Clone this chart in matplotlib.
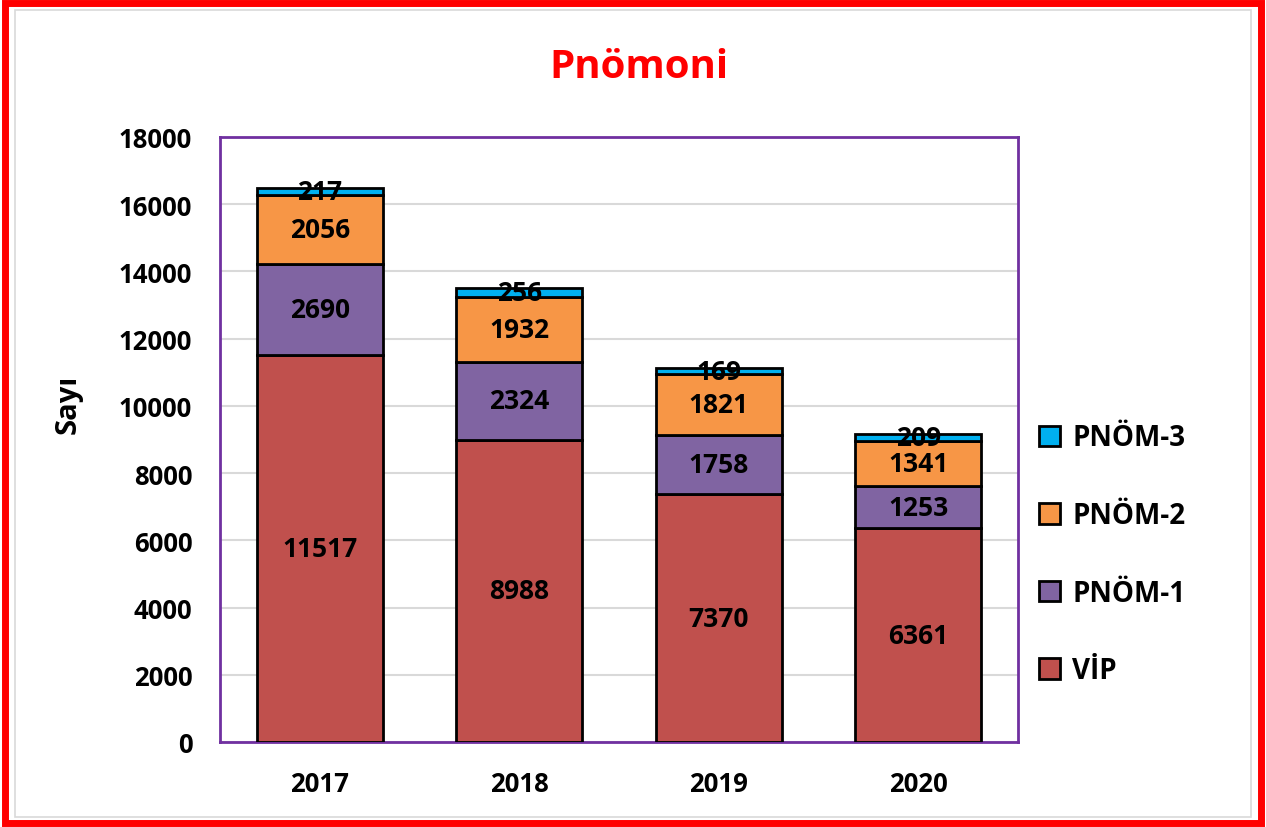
import matplotlib.pyplot as plt
from matplotlib.patches import Rectangle
import numpy as np

# Chart data
years = ["2017", "2018", "2019", "2020"]
vip = [11517, 8988, 7370, 6361]
pnom1 = [2690, 2324, 1758, 1253]
pnom2 = [2056, 1932, 1821, 1341]
pnom3 = [217, 256, 169, 209]

series_names = ["VİP", "PNÖM-1", "PNÖM-2", "PNÖM-3"]
series_colors = ["#C0504D", "#8064A2", "#F79646", "#00B0F0"]

plt.rcParams['font.family'] = ['Open Sans', 'DejaVu Sans']
plt.rcParams['font.weight'] = 'bold'

fig = plt.figure(figsize=(12.66, 8.28), dpi=100)
ax = fig.add_axes([0.1738, 0.1027, 0.6303, 0.7307])

x = np.arange(len(years))
bottom = np.zeros(len(years))
handles = []
for name, vals, col in zip(series_names, [vip, pnom1, pnom2, pnom3], series_colors):
    vals = np.array(vals)
    bars = ax.bar(x, vals, width=0.63, bottom=bottom, color=col,
                  edgecolor="black", linewidth=2, label=name, zorder=3)
    handles.append(bars)
    for xi, b, v in zip(x, bottom, vals):
        ax.text(xi, b + v / 2, str(v), ha="center", va="center",
                fontsize=19, fontweight="bold", color="black", zorder=4)
    bottom = bottom + vals

ax.set_xlim(-0.5, len(years) - 0.5)
ax.set_ylim(0, 18000)
ax.set_yticks(range(0, 18001, 2000))
ax.set_xticks(x)
ax.set_xticklabels(years)
ax.tick_params(axis="both", length=0, labelsize=18.5, pad=20)
for lbl in ax.get_xticklabels() + ax.get_yticklabels():
    lbl.set_fontweight("bold")
ax.yaxis.grid(True, color="#D9D9D9", linewidth=1.5, zorder=0)
ax.set_axisbelow(True)
for sp in ax.spines.values():
    sp.set_color("#7030A0")
    sp.set_linewidth(2)

# y label sits a bit above the middle, like the original
ax.set_ylabel("Sayı", fontsize=21, fontweight="bold", va="center")
ax.yaxis.set_label_coords(-0.19, 0.559)

fig.text(0.505, 0.918, "Pnömoni", ha="center", va="center",
         fontsize=29, fontweight="bold", color="#FF0000")

# legend in reversed order
leg = ax.legend(handles[::-1], series_names[::-1], loc="center left",
                bbox_to_anchor=(0.995, 0.31), frameon=False,
                labelspacing=1.75, handlelength=0.75, handleheight=0.75,
                handletextpad=0.45, prop={"weight": "bold", "size": 20})

# outer red frame with a light inner line
fig.patches.append(Rectangle((0.004, 0.005), 0.992, 0.99, transform=fig.transFigure,
                             fill=False, edgecolor="#FF0000", linewidth=5))
fig.patches.append(Rectangle((0.0115, 0.0125), 0.977, 0.974, transform=fig.transFigure,
                             fill=False, edgecolor="#D9D9D9", linewidth=1.2))

plt.savefig("out.png", dpi=100)
plt.close()
